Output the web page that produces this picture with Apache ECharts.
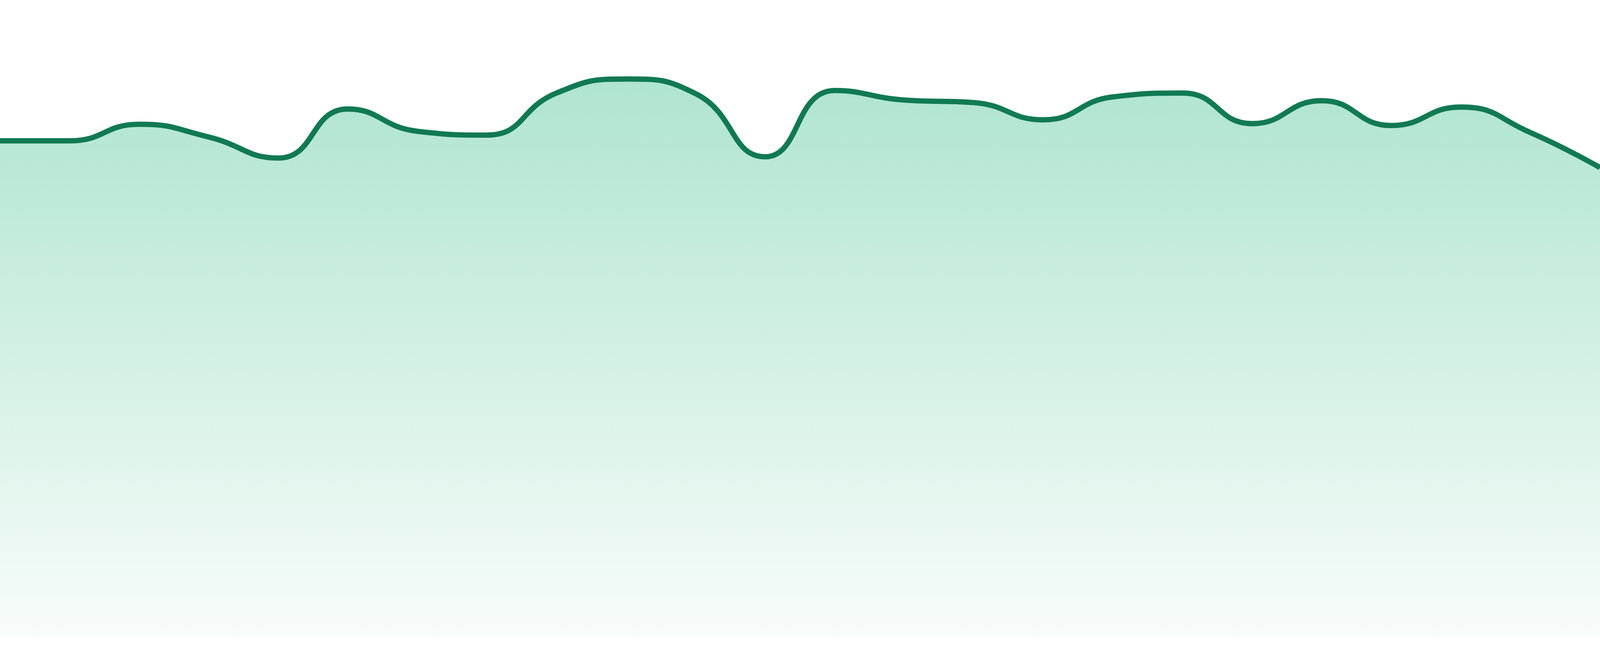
<!DOCTYPE html>
<html>
<head>
<meta charset="utf-8">
<script src="https://cdn.jsdelivr.net/npm/echarts@6/dist/echarts.min.js"></script>
<style>
html,body{margin:0;padding:0;background:#ffffff;width:100%;height:100%;overflow:hidden;}
#chart{width:100vw;height:100vh;}
</style>
</head>
<body>
<div id="chart"></div>
<script>
const categories = ['1','2','3','4','5','6','7','8','9','10','11','12','13','14','15','16','17','18','19','20','21','22','23','24'];
const values = [77.9, 77.9, 80.5, 78.5, 75.2, 82.9, 79.4, 78.8, 85.4, 87.6, 85.3, 75.4, 85.8, 84.3, 83.9, 81.2, 84.8, 85.4, 80.6, 84.2, 80.3, 83.2, 79.2, 73.7];
const yMin = 0;
const yMax = 100;

const el = document.getElementById('chart');
const scale = el.clientWidth / 4800;
const chart = echarts.init(el, null, {renderer: 'canvas'});
chart.setOption({
  animation: false,
  backgroundColor: '#ffffff',
  grid: {left: 0, right: 0, top: 0, bottom: '2.857%', containLabel: false},
  xAxis: {
    type: 'category',
    data: categories,
    boundaryGap: false,
    show: false
  },
  yAxis: {
    type: 'value',
    min: yMin,
    max: yMax,
    show: false
  },
  series: [{
    type: 'line',
    data: values,
    smooth: true,
    symbol: 'none',
    lineStyle: {color: '#117a52', width: 16 * scale},
    itemStyle: {color: '#117a52'},
    areaStyle: {
      opacity: 1,
      color: new echarts.graphic.LinearGradient(0, 0, 0, 1, [
        {offset: 0, color: 'rgb(175,229,206)'},
        {offset: 1, color: 'rgb(248,252,251)'}
      ])
    }
  }]
});
window.addEventListener('resize', function(){ chart.resize(); });
</script>
</body>
</html>
